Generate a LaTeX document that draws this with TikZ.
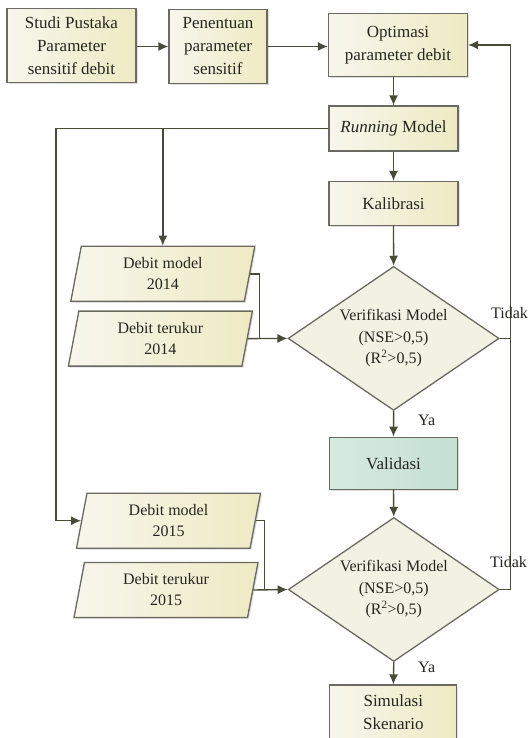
\documentclass[tikz,border=0pt]{standalone}
\usepackage{fontspec}
\setmainfont{Liberation Serif}
\usetikzlibrary{shapes.geometric,arrows.meta,shadows,calc}
\definecolor{linec}{HTML}{4A4A3A}
\definecolor{edgec}{HTML}{6A6A62}
\definecolor{boxl}{HTML}{F7F6EC}
\definecolor{boxr}{HTML}{EEEAC3}
\definecolor{vall}{HTML}{D6EAE0}
\definecolor{valr}{HTML}{C4DFD3}
\definecolor{diaf}{HTML}{F1F2E4}
\definecolor{txtc}{HTML}{262620}
\begin{document}
\begin{tikzpicture}[x=1pt,y=-1pt,
  every node/.style={text=txtc},
  basebox/.style={draw=edgec, line width=1.3pt, align=center, inner sep=0pt,
    drop shadow={opacity=0.25, shadow xshift=1.5pt, shadow yshift=-1.5pt}},
  procbox/.style={basebox, rectangle, left color=boxl, right color=boxr,
    font=\fontsize{17}{23}\selectfont},
  valbox/.style={basebox, rectangle, left color=vall, right color=valr,
    font=\fontsize{17}{23}\selectfont},
  databox/.style={basebox, trapezium, trapezium left angle=72, trapezium right angle=108,
    trapezium stretches body, left color=boxl, right color=boxr,
    minimum width=184pt, minimum height=55pt, font=\fontsize{16}{21}\selectfont},
  decbox/.style={draw=edgec, line width=1.3pt, diamond, aspect=1.47, inner sep=0pt,
    fill=diaf, align=center, minimum width=211pt, minimum height=144pt,
    font=\fontsize{16}{21.5}\selectfont},
  lbl/.style={font=\fontsize{16}{19}\selectfont, inner sep=0pt},
  conn/.style={draw=linec, line width=1.4pt},
  arr/.style={conn, -{Latex[length=10pt,width=9pt]}}
]
\useasboundingbox (0,0) rectangle (532,738);
\clip (0,0) rectangle (532,738);
\fill[white] (0,0) rectangle (532,738);

% process boxes
\node[procbox, minimum width=129pt, minimum height=74pt] (studi) at (71.5,45.5) {Studi Pustaka\\Parameter\\sensitif debit};
\node[procbox, minimum width=98pt, minimum height=74pt] (penentuan) at (218,46.5) {Penentuan\\parameter\\sensitif};
\node[procbox, minimum width=139pt, minimum height=63pt] (optimasi) at (398,45) {Optimasi\\parameter debit};
\node[procbox, minimum width=129pt, minimum height=45pt] (running) at (393.5,128.5) {\textit{Running} Model};
\node[procbox, minimum width=129pt, minimum height=44pt] (kalibrasi) at (393.5,203.5) {Kalibrasi};
\node[decbox] (d1) at (393.6,338.4) {Verifikasi Model\\(NSE>0,5)\\(R\textsuperscript{2}>0,5)};
\node[valbox, minimum width=128pt, minimum height=52pt] (validasi) at (393.5,463.3) {Validasi};
\node[decbox] (d2) at (393.8,589.5) {Verifikasi Model\\(NSE>0,5)\\(R\textsuperscript{2}>0,5)};
\node[procbox, minimum width=127pt, minimum height=55pt] (simulasi) at (393.3,712.5) {Simulasi\\Skenario};

% data boxes
\node[databox] (p1) at (162.8,273.8) {Debit model\\2014};
\node[databox] (p2) at (160.4,338.6) {Debit terukur\\2014};
\node[databox] (p3) at (168.5,520.7) {Debit model\\2015};
\node[databox] (p4) at (166,590) {Debit terukur\\2015};

% helper coordinates
\coordinate (cL) at (56,0);
\coordinate (cR) at (510.7,0);
\coordinate (j1) at (259.6,0);
\coordinate (j2) at (264.7,0);

% top row
\draw[arr] (studi.east |- penentuan.west) -- (penentuan.west);
\draw[arr] (penentuan.east) -- (penentuan.east -| optimasi.west);
\draw[arr] (running.north |- optimasi.south) -- (running.north);
\draw[arr] (running.south) -- (kalibrasi.north);
\draw[arr] (kalibrasi.south) -- (d1.north);
\draw[arr] (d1.south) -- (validasi.north);
\draw[arr] (validasi.south) -- (d2.north);
\draw[arr] (d2.south) -- (simulasi.north);

% running model branches
\draw[arr] (running.west) -| (p1.north);
\draw[arr] (running.west) -| (cL |- p3.west) -- (p3.west);

% data into decisions
\draw[conn] (p1.east) -- (j1 |- p1.east) -- (j1 |- d1.west);
\draw[arr] (p2.east) -- (d1.west);
\draw[conn] (p3.east) -- (j2 |- p3.east) -- (j2 |- d2.west);
\draw[arr] (p4.east) -- (d2.west);

% feedback loop
\draw[conn] (d1.east) -- (cR |- d1.east);
\draw[arr] (d2.east) -- (cR |- d2.east) -- (cR |- optimasi.east) -- (optimasi.east);

% labels
\node[lbl, anchor=west] (t1) at (491,313) {Tidak};
\node[lbl, anchor=west] (t2) at (490,561.7) {Tidak};
\node[lbl] (y1) at (426.7,420.6) {Ya};
\node[lbl] (y2) at (426.7,667.3) {Ya};
\end{tikzpicture}
\end{document}
